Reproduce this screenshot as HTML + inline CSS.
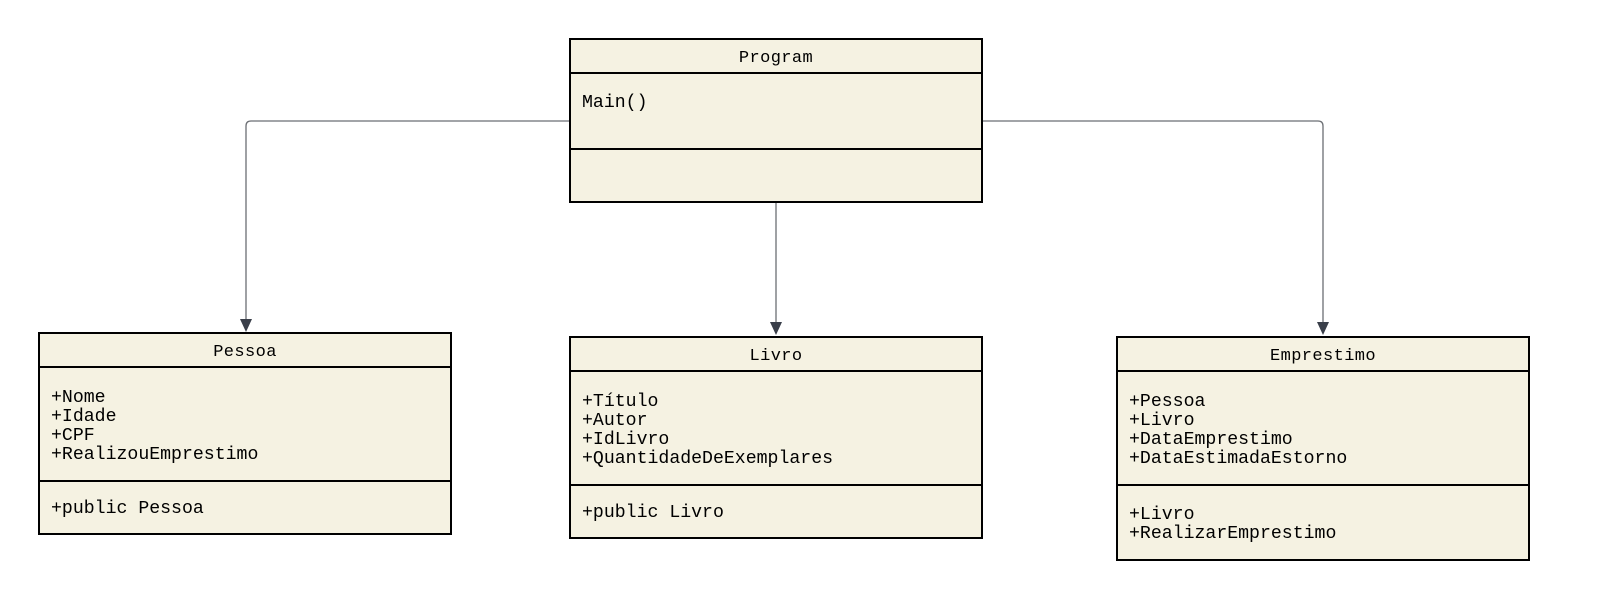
<!DOCTYPE html>
<html><head><meta charset="utf-8"><style>
html,body{margin:0;padding:0;background:#fff;width:1600px;height:612px;overflow:hidden}
text{font-family:"Liberation Mono","DejaVu Sans Mono",monospace;fill:#000}
.t{font-size:17px;letter-spacing:0.4px}
.a{font-size:18.2px}
</style></head><body>
<svg width="1600" height="612" viewBox="0 0 1600 612" xmlns="http://www.w3.org/2000/svg">
<g fill="none" stroke="#6b6e73" stroke-width="1.3">
<path d="M570 121 H251 Q246 121 246 126 V322"/>
<path d="M776 202 V325"/>
<path d="M982 121 H1318 Q1323 121 1323 126 V325"/>
</g>
<g fill="#3a3f4a">
<path d="M240 319 L252 319 L246 332 Z"/>
<path d="M770 322 L782 322 L776 335 Z"/>
<path d="M1317 322 L1329 322 L1323 335 Z"/>
</g>
<g fill="#f5f2e2" stroke="#000" stroke-width="2">
<rect x="570" y="39" width="412" height="163"/>
<line x1="570" y1="73" x2="982" y2="73"/><line x1="570" y1="149" x2="982" y2="149"/>
<rect x="39" y="333" width="412" height="201"/>
<line x1="39" y1="367" x2="451" y2="367"/><line x1="39" y1="481" x2="451" y2="481"/>
<rect x="570" y="337" width="412" height="201"/>
<line x1="570" y1="371" x2="982" y2="371"/><line x1="570" y1="485" x2="982" y2="485"/>
<rect x="1117" y="337" width="412" height="223"/>
<line x1="1117" y1="371" x2="1529" y2="371"/><line x1="1117" y1="485" x2="1529" y2="485"/>
</g>
<text class="t" x="776" y="62" text-anchor="middle">Program</text>
<text class="a" x="582" y="107">Main()</text>

<text class="t" x="245" y="356" text-anchor="middle">Pessoa</text>
<text class="a" x="51" y="402">+Nome</text>
<text class="a" x="51" y="421">+Idade</text>
<text class="a" x="51" y="440">+CPF</text>
<text class="a" x="51" y="459">+RealizouEmprestimo</text>
<text class="a" x="51" y="513">+public Pessoa</text>

<text class="t" x="776" y="360" text-anchor="middle">Livro</text>
<text class="a" x="582" y="406">+Título</text>
<text class="a" x="582" y="425">+Autor</text>
<text class="a" x="582" y="444">+IdLivro</text>
<text class="a" x="582" y="463">+QuantidadeDeExemplares</text>
<text class="a" x="582" y="517">+public Livro</text>

<text class="t" x="1323" y="360" text-anchor="middle">Emprestimo</text>
<text class="a" x="1129" y="406">+Pessoa</text>
<text class="a" x="1129" y="425">+Livro</text>
<text class="a" x="1129" y="444">+DataEmprestimo</text>
<text class="a" x="1129" y="463">+DataEstimadaEstorno</text>
<text class="a" x="1129" y="519">+Livro</text>
<text class="a" x="1129" y="538">+RealizarEmprestimo</text>
</svg>
</body></html>
